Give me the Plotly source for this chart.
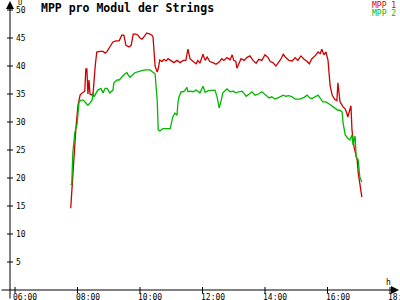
import plotly.graph_objects as go

title = "MPP pro Modul der Strings"
series_names = ["MPP 1", "MPP 2"]
series_colors = ["#cc0000", "#00b800"]

red_time = ["07:47","07:49","07:51","07:53","07:55","07:57","07:59","08:01","08:05","08:09","08:14","08:16","08:18","08:20","08:22","08:24","08:28","08:30","08:34","08:37","08:43","08:49","08:53","08:57","09:02","09:08","09:14","09:20","09:25","09:29","09:33","09:39","09:43","09:47","09:52","09:56","10:00","10:04","10:10","10:13","10:19","10:23","10:25","10:27","10:29","10:33","10:35","10:38","10:42","10:46","10:50","10:54","11:00","11:05","11:11","11:17","11:23","11:28","11:32","11:36","11:42","11:48","11:51","11:55","12:01","12:05","12:09","12:14","12:20","12:26","12:32","12:37","12:41","12:47","12:53","12:57","13:00","13:04","13:06","13:10","13:14","13:20","13:25","13:31","13:37","13:43","13:48","13:54","14:00","14:06","14:10","14:15","14:21","14:27","14:31","14:35","14:40","14:46","14:52","14:58","15:03","15:09","15:15","15:21","15:25","15:30","15:36","15:42","15:46","15:49","15:53","15:57","16:01","16:05","16:09","16:14","16:18","16:20","16:22","16:24","16:30","16:34","16:37","16:39","16:45","16:47","16:51","16:57","16:59","17:02","17:06"]
red_values = [14.6,17.9,20.5,24.0,25.9,29.0,31.0,33.0,34.8,35.2,35.5,39.5,39.5,35.0,37.5,35.0,34.8,35.2,40.0,42.5,42.6,42.6,42.3,42.6,43.4,44.3,44.5,44.5,45.5,45.5,43.7,43.4,43.7,45.7,45.7,45.5,45.0,44.8,45.5,45.9,45.7,45.5,45.2,42.0,40.0,38.9,39.5,41.1,40.8,41.2,40.9,41.3,41.0,40.6,41.0,40.6,41.0,41.0,43.0,41.3,40.8,40.4,41.0,40.5,42.1,41.0,41.6,40.8,40.6,40.3,40.7,41.3,41.0,41.5,41.1,42.0,41.0,40.8,39.6,40.5,41.3,41.0,41.5,41.8,41.0,40.5,41.2,41.0,42.0,41.5,40.8,40.6,40.0,40.8,41.3,42.1,41.5,41.0,40.9,41.5,41.0,41.8,41.2,40.8,40.4,41.3,41.8,42.5,42.2,43.0,42.0,42.5,41.0,36.5,34.8,34.0,33.8,37.0,34.5,33.6,32.7,32.3,31.6,30.9,32.9,28.6,25.5,23.2,20.9,19.1,16.6]

green_time = ["07:47","07:49","07:51","07:53","07:55","07:59","08:01","08:03","08:07","08:11","08:16","08:20","08:24","08:28","08:30","08:32","08:36","08:39","08:45","08:49","08:53","08:57","09:02","09:08","09:10","09:16","09:20","09:25","09:31","09:35","09:37","09:41","09:45","09:50","10:00","10:10","10:19","10:25","10:29","10:33","10:35","10:38","10:44","10:58","11:01","11:03","11:07","11:11","11:13","11:15","11:19","11:23","11:26","11:30","11:32","11:36","11:42","11:48","11:51","11:55","12:01","12:05","12:11","12:14","12:20","12:24","12:28","12:32","12:36","12:39","12:47","12:53","12:59","13:04","13:10","13:16","13:24","13:29","13:35","13:41","13:47","13:54","14:02","14:08","14:13","14:19","14:27","14:35","14:40","14:46","14:52","14:58","15:07","15:15","15:21","15:26","15:30","15:36","15:42","15:48","15:51","15:57","16:01","16:07","16:11","16:16","16:20","16:24","16:28","16:30","16:34","16:39","16:43","16:47","16:49","16:53","16:55","16:59","17:02","17:06"]
green_values = [18.75,19.0,24.5,26.2,28.2,29.5,31.6,33.6,33.9,33.9,33.4,33.0,33.4,33.9,35.2,34.5,35.2,35.7,36.0,35.2,36.0,36.0,35.2,35.7,37.0,37.5,37.5,38.0,38.6,38.8,38.4,38.0,38.4,38.8,39.1,39.3,39.3,38.9,38.6,33.9,28.6,28.4,28.8,28.8,30.4,30.9,31.6,31.2,33.6,34.5,35.4,35.4,35.6,36.2,35.4,35.5,35.4,35.7,35.5,35.2,36.4,35.3,35.6,35.6,35.7,35.7,34.5,32.5,33.9,35.2,35.9,35.4,35.5,35.2,35.4,35.5,34.6,35.0,35.4,34.8,35.0,35.4,34.8,34.3,34.5,34.1,34.4,34.8,34.6,34.7,34.5,34.1,34.1,34.4,34.8,34.3,34.2,34.5,34.8,34.0,33.6,33.6,33.4,33.0,32.7,32.4,32.1,32.1,31.8,29.8,27.7,27.1,26.8,27.7,25.9,27.5,23.8,23.2,20.2,19.3]

x_tick_hours = [6, 8, 10, 12, 14, 16, 18]
x_tick_labels = ["06:00", "08:00", "10:00", "12:00", "14:00", "16:00", "18:00"]
y_tick_values = [5, 10, 15, 20, 25, 30, 35, 40, 45, 50]
y_tick_labels = ["5", "10", "15", "20", "25", "30", "35", "40", "45", "50"]
y_unit = "U"
x_unit = "h"

def to_hours(t):
    h, m = t.split(":")
    return int(h) + int(m) / 60.0

X_RANGE = [5.52, 18.32]
Y_RANGE = [-1.786, 51.786]
Y_AXIS_X = 5.84
MONO = "DejaVu Sans Mono"

fig = go.Figure()
for name, color, tt, vv in [(series_names[0], series_colors[0], red_time, red_values),
                            (series_names[1], series_colors[1], green_time, green_values)]:
    fig.add_trace(go.Scatter(x=[to_hours(t) for t in tt], y=vv, mode="lines", name=name,
                             line=dict(color=color, width=1.3), showlegend=False))

shapes = []
annotations = []
# axes lines with arrowheads
annotations.append(dict(x=1, y=0, xref="paper", yref="y", ax=-400, ay=0, axref="pixel", ayref="pixel",
                        text="", showarrow=True, arrowhead=2, arrowsize=1.6, arrowwidth=1, arrowcolor="black"))
annotations.append(dict(x=Y_AXIS_X, y=1, xref="x", yref="paper", ax=0, ay=300, text="", showarrow=True,
                        arrowhead=2, arrowsize=1.6, arrowwidth=1, arrowcolor="black"))
# x ticks
for h, lab in zip(x_tick_hours, x_tick_labels):
    shapes.append(dict(type="line", xref="x", yref="y", ysizemode="pixel", yanchor=0,
                       x0=h, x1=h, y0=-3, y1=3, line=dict(color="black", width=1)))
    annotations.append(dict(x=h, y=0, xref="x", yref="y", text=lab, showarrow=False,
                            xanchor="left", yanchor="top", xshift=-4, yshift=-1,
                            font=dict(family=MONO, size=8, color="black")))
# y ticks
for v, lab in zip(y_tick_values, y_tick_labels):
    shapes.append(dict(type="line", xref="x", yref="y", xsizemode="pixel", xanchor=Y_AXIS_X,
                       x0=-3, x1=3, y0=v, y1=v, line=dict(color="black", width=1)))
    annotations.append(dict(x=Y_AXIS_X, y=v, xref="x", yref="y", text=lab, showarrow=False,
                            xanchor="left", yanchor="middle", xshift=5, borderpad=0,
                            font=dict(family=MONO, size=8, color="black")))

def px(x, y, text, size, color="black", xanchor="left"):
    return dict(x=x / 400, y=1 - y / 300, xref="paper", yref="paper", text=text, showarrow=False,
                xanchor=xanchor, yanchor="middle", borderpad=0,
                font=dict(family=MONO, size=size, color=color))

annotations.append(px(40, 8, "<b>" + title + "</b>", 11.5))
annotations.append(px(397, 5, series_names[0], 8, series_colors[0], "right"))
annotations.append(px(397, 13, series_names[1], 8, series_colors[1], "right"))
annotations.append(px(17, 3, y_unit, 7))
annotations.append(px(385, 282, x_unit, 8))

fig.update_layout(
    width=400, height=300, margin=dict(l=0, r=0, t=0, b=0),
    paper_bgcolor="white", plot_bgcolor="white",
    xaxis=dict(range=X_RANGE, visible=False, fixedrange=True),
    yaxis=dict(range=Y_RANGE, visible=False, fixedrange=True),
    shapes=shapes, annotations=annotations,
)
fig.write_html("out.html")
